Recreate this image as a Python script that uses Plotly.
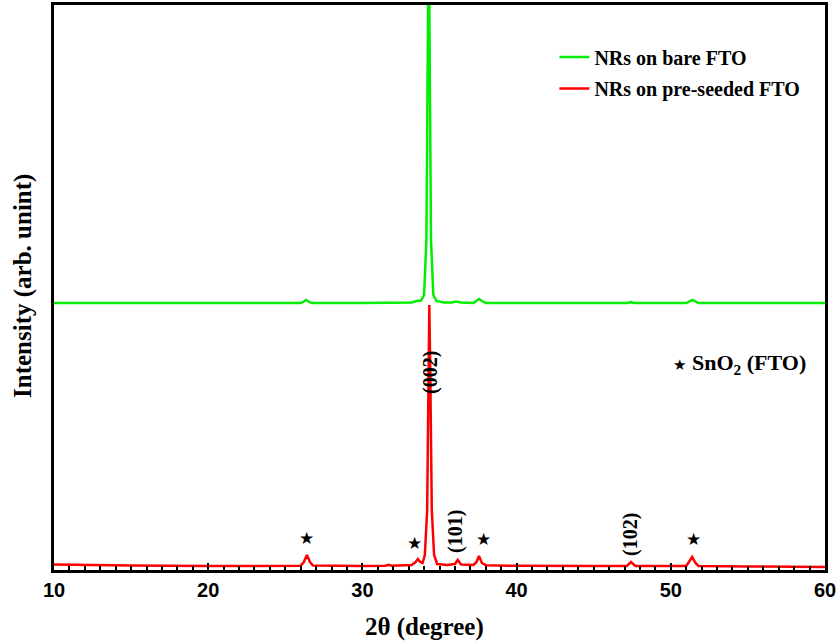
import plotly.graph_objects as go

# ---- data ----
two_theta_preseeded = [10, 12, 15, 20, 25, 26.0, 26.2, 26.4, 26.6, 26.8, 30, 31.5, 31.7, 31.9, 33.2, 33.45, 33.6, 33.75,
                       33.9, 34.05, 34.2, 34.3, 34.34, 34.4, 34.5, 34.65, 34.85, 35.5, 36.0, 36.18, 36.4, 37.2, 37.4,
                       37.56, 37.75, 38.0, 40, 45, 47.15, 47.42, 47.7, 51.0, 51.2, 51.39, 51.6, 51.8, 55, 60]
intensity_preseeded = [5.5, 5.0, 4.5, 4.0, 4.0, 4.2, 8, 15, 8, 4.5, 4.0, 4.2, 5.2, 4.3, 5.0, 8, 11, 8,
                       7, 15, 60, 200, 265, 200, 60, 15, 6, 5.0, 6, 10, 5.5, 5.0, 8,
                       14, 7, 4.8, 4.2, 4.0, 4.0, 8, 4.0, 4.0, 8, 13, 7, 4.0, 3.5, 3.0]

two_theta_bare = [10, 15, 20, 26.0, 26.2, 26.34, 26.5, 26.7, 30, 33.2, 33.5, 33.8, 34.0, 34.15, 34.3, 34.45, 34.6,
                  34.8, 35.3, 35.8, 36.07, 36.4, 37.2, 37.4, 37.56, 37.75, 38.0, 45, 47.2, 47.4, 47.6, 51.0, 51.2,
                  51.4, 51.6, 51.8, 60]
intensity_bare = [267, 267, 267, 267, 268.5, 270, 268.5, 267, 267, 267.5, 269, 269.5, 275, 330, 650, 330, 275,
                  269, 267.5, 267.5, 268.5, 267.5, 267, 269, 271, 269, 267, 267, 267, 268, 267, 267, 268.5,
                  270, 268.5, 267, 267]

series_names = ["NRs on bare FTO", "NRs on pre-seeded FTO"]
series_colors = ["#00EE00", "#FF0000"]

peak_labels = ["(002)", "(101)", "(102)"]
peak_label_x = [34.38, 36.0, 47.35]
peak_label_y = [198, 39, 36]

star_x = [26.4, 33.41, 37.84, 51.5]
star_y = [32, 27, 31, 31]

x_ticks = [10, 20, 30, 40, 50, 60]

serif = "Liberation Serif, Times New Roman, serif"
narrow = "Liberation Sans Narrow, Arial Narrow, Liberation Sans, Arial, sans-serif"
legend_font = dict(family=serif, size=20, color="black", weight="bold")

fig = go.Figure()
fig.add_trace(go.Scatter(x=two_theta_bare, y=intensity_bare, mode="lines", name=series_names[0],
                         line=dict(color=series_colors[0], width=2.5), legend="legend"))
fig.add_trace(go.Scatter(x=two_theta_preseeded, y=intensity_preseeded, mode="lines", name=series_names[1],
                         line=dict(color=series_colors[1], width=2.5), legend="legend2"))

for t, x, y in zip(peak_labels, peak_label_x, peak_label_y):
    fig.add_annotation(x=x, y=y, text=t, textangle=-90, showarrow=False,
                       font=dict(family=serif, size=20, color="black", weight="bold"))
for x, y in zip(star_x, star_y):
    fig.add_annotation(x=x, y=y, text="★", showarrow=False,
                       font=dict(family="DejaVu Sans", size=17, color="black"))

fig.add_annotation(xref="paper", yref="paper", x=0.8, y=0.365, xanchor="left", yanchor="middle",
                   text="<span style='font-family:DejaVu Sans;font-size:15px'>★</span> SnO<sub>2</sub> (FTO)",
                   showarrow=False, font=dict(family=serif, size=22, color="black", weight="bold"))

# axis titles
fig.add_annotation(xref="paper", yref="paper", x=0.481, y=-0.1, xanchor="center", yanchor="middle",
                   text="2θ (degree)", showarrow=False,
                   font=dict(family=serif, size=25, color="black", weight="bold"))
fig.add_annotation(xref="paper", yref="paper", x=-0.040, y=0.503, xanchor="center", yanchor="middle",
                   text="Intensity (arb. unint)", textangle=-90, showarrow=False,
                   font=dict(family=serif, size=25, color="black", weight="bold"))

fig.update_layout(
    width=837, height=643,
    margin=dict(l=54, r=12, t=5, b=73),
    paper_bgcolor="white", plot_bgcolor="white",
    showlegend=True,
    legend=dict(x=0.649, y=0.908, xanchor="left", yanchor="middle", bgcolor="rgba(0,0,0,0)",
                font=legend_font, itemwidth=30),
    legend2=dict(x=0.649, y=0.852, xanchor="left", yanchor="middle", bgcolor="rgba(0,0,0,0)",
                 font=legend_font, itemwidth=30),
    xaxis=dict(range=[10, 60], tickvals=x_ticks, ticktext=[str(v) for v in x_ticks],
               showline=True, linecolor="black", linewidth=3, mirror=True,
               ticks="inside", ticklen=7, tickwidth=2, tickcolor="black",
               minor=dict(dtick=1, ticks="inside", ticklen=4, tickwidth=2, tickcolor="black"),
               showgrid=False, zeroline=False, automargin=False,
               tickfont=dict(family=narrow, size=20, color="black", weight="bold")),
    yaxis=dict(range=[0, 565], showticklabels=False, ticks="",
               showline=True, linecolor="black", linewidth=3, mirror=True,
               showgrid=False, zeroline=False, automargin=False),
)

fig.write_html("out.html", config={"displayModeBar": False},
               post_script="document.body.style.margin='0';document.body.style.padding='0';")
